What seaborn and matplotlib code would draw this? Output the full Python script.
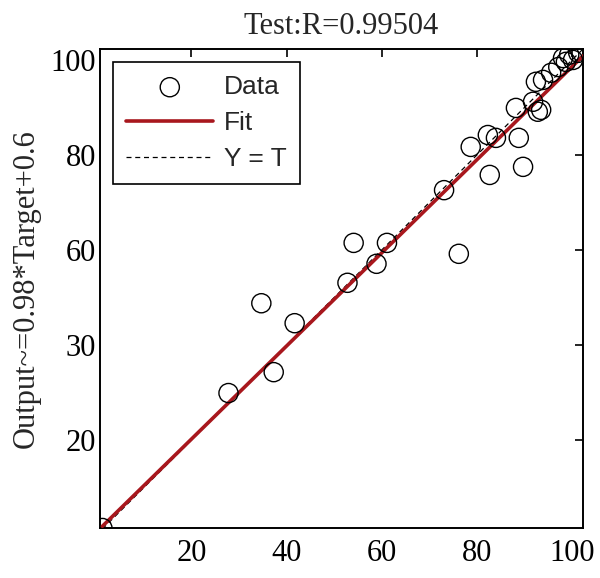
import numpy as np
import pandas as pd
import seaborn as sns
import matplotlib.pyplot as plt

# test targets / network outputs
target = [1.3, 27.8, 34.7, 37.3, 41.7, 52.8, 54.1, 58.9, 61.1, 76.2,
          73.1, 78.7, 82.3, 84.0, 88.8, 82.7, 89.7, 88.2, 91.8, 92.8,
          93.5, 92.4, 93.9, 95.6, 97.1, 98.1, 98.7, 99.4, 100.2, 101.3]
output = [1.5, 29.9, 48.8, 34.3, 44.6, 53.1, 61.5, 57.1, 61.5, 59.2,
          72.6, 81.7, 84.2, 83.6, 83.6, 75.8, 77.5, 89.9, 91.2, 89.1,
          89.5, 95.4, 95.8, 97.3, 98.5, 100.4, 99.6, 101.1, 100.0, 101.5]
slope, intercept = 0.98, 0.6
tick_vals = [20, 40, 60, 80, 100]
xtick_labels = ['20', '40', '60', '80', '100']
ytick_labels = ['20', '30', '60', '80', '100']

df = pd.DataFrame({'Target': target, 'Output': output})
t_line = np.array([min(target), max(target) + 1.0])
fit_df = pd.DataFrame({'T': t_line, 'Y': slope * t_line + intercept})
yt_df = pd.DataFrame({'T': t_line, 'Y': t_line})

sns.set_style('white')
plt.rcParams['font.family'] = ['Liberation Serif', 'DejaVu Serif']

fig = plt.figure(figsize=(6, 5.78), dpi=100)
ax = fig.add_axes([0.1667, 0.0865, 0.805, 0.8287])

sns.lineplot(data=yt_df, x='T', y='Y', ax=ax, color='black', lw=0.9,
             linestyle=(0, (4, 3)), label='Y = T', zorder=2)
sns.lineplot(data=fit_df, x='T', y='Y', ax=ax, color='#a8171d', lw=2.6,
             label='Fit', zorder=3)
sns.scatterplot(data=df, x='Target', y='Output', ax=ax, marker='o', s=190,
                facecolor='none', edgecolor='black', linewidth=1.0,
                label='Data', zorder=4, clip_on=True)

ax.set_xlim(0.8, 102.3)
ax.set_ylim(1.5, 102.3)
ax.set_xticks(tick_vals)
ax.set_xticklabels(xtick_labels)
ax.set_yticks(tick_vals)
ax.set_yticklabels(ytick_labels)
ax.tick_params(direction='in', length=6, width=1.2, top=True, right=True,
               labelsize=22, colors='black')
ax.tick_params(axis='x', pad=8)
ax.tick_params(axis='y', pad=3)
for s in ax.spines.values():
    s.set_color('black')
    s.set_linewidth(1.4)

ax.set_xlabel('')
ax.set_ylabel('Output~=0.98*Target+0.6', fontsize=22, labelpad=7)
ax.set_title('Test:R=0.99504', fontsize=22, pad=11)

h, l = ax.get_legend_handles_labels()
order = [l.index('Data'), l.index('Fit'), l.index('Y = T')]
leg = ax.legend([h[i] for i in order], [l[i] for i in order], loc='upper left',
                bbox_to_anchor=(0.027, 0.973), borderaxespad=0,
                fancybox=False, framealpha=1, edgecolor='black',
                handlelength=3.3, borderpad=0.5, labelspacing=0.45,
                handletextpad=0.4,
                prop={'family': 'Liberation Sans', 'size': 19})
leg.get_frame().set_linewidth(1.2)

fig.savefig('out.png', dpi=100)
